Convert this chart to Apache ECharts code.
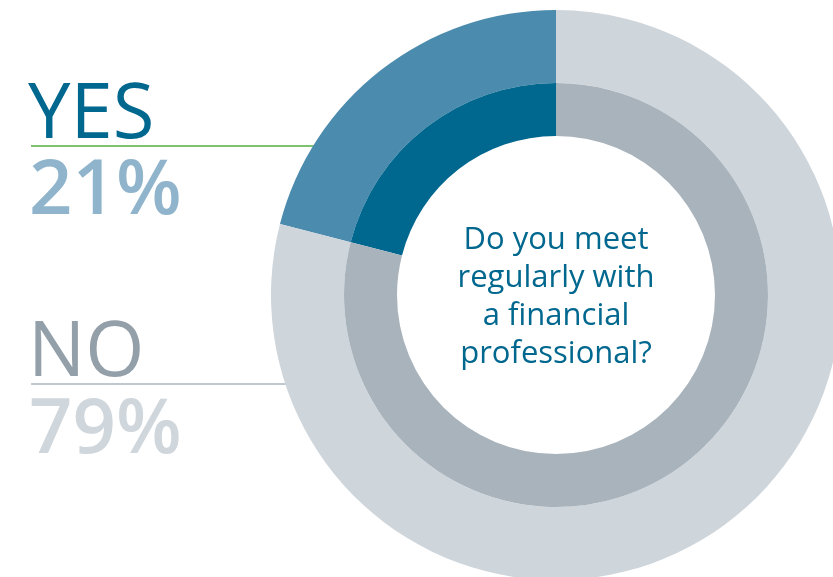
<!DOCTYPE html>
<html><head><meta charset="utf-8">
<script src="https://cdn.jsdelivr.net/npm/echarts@6/dist/echarts.min.js"></script>
<style>html,body{margin:0;padding:0;background:#fff}#c{width:833px;height:577px}</style>
</head><body><div id="c"></div>
<script>
const categories = ['YES', 'NO'];
const values = [21, 79];
const question = ['Do you meet', 'regularly with', 'a financial', 'professional?'];

const outerColors = ['#4b8bad', '#ced5db'];
const innerColors = ['#00678e', '#a9b3bc'];
const FONT = '"Open Sans", sans-serif';

const chart = echarts.init(document.getElementById('c'));
const mk = (cols) => categories.map((c, i) => ({ name: c, value: values[i], itemStyle: { color: cols[i] } }));

chart.setOption({
  animation: false,
  series: [
    { type: 'pie', z: 2, center: [556, 295], radius: [212, 285], startAngle: 90, clockwise: false,
      label: { show: false }, labelLine: { show: false }, silent: true, data: mk(outerColors) },
    { type: 'pie', z: 2, center: [556, 295], radius: [159, 212], startAngle: 90, clockwise: false,
      label: { show: false }, labelLine: { show: false }, silent: true, data: mk(innerColors) }
  ],
  graphic: [
    { type: 'line', z: 0, shape: { x1: 31, y1: 146, x2: 330, y2: 146 }, style: { stroke: '#7dc36f', lineWidth: 2 } },
    { type: 'line', z: 0, shape: { x1: 31, y1: 384, x2: 330, y2: 384 }, style: { stroke: '#c0c8cf', lineWidth: 2 } },
    { type: 'text', z: 5, left: 28, top: 78, style: { text: categories[0], font: '76px ' + FONT, fill: '#00678e' } },
    { type: 'text', z: 5, left: 29, top: 154, style: { text: values[0] + '%', font: '600 76px ' + FONT, fill: '#8fb4cc' } },
    { type: 'text', z: 5, left: 28, top: 316, style: { text: categories[1], font: '76px ' + FONT, fill: '#939fa9' } },
    { type: 'text', z: 5, left: 29, top: 393, style: { text: values[1] + '%', font: '600 76px ' + FONT, fill: '#cfd6dc' } },
    { type: 'text', z: 5, x: 556, y: 297, style: { text: question.join('\n'), font: '31px ' + FONT, fill: '#00678e',
      align: 'center', verticalAlign: 'middle', lineHeight: 38 } }
  ]
});
</script></body></html>
